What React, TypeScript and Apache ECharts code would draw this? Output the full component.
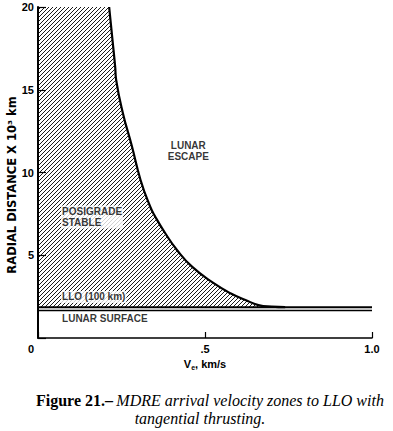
import React, { useEffect, useRef } from 'react';
import * as echarts from 'echarts';

// Axis ticks
const xTickValues = [0, 0.5, 1.0];
const xTickLabels = ['0', '.5', '1.0'];
const yTickValues = [0, 5, 10, 15, 20];
const yTickLabels = ['', '5', '10', '15', '20'];

// Boundary between posigrade-stable and lunar-escape zones (V_e km/s, radial distance 10^3 km)
const curveV = [0.213, 0.221, 0.231, 0.234, 0.254, 0.281, 0.307, 0.336, 0.351, 0.381, 0.416, 0.461, 0.526, 0.576, 0.621, 0.66, 0.70, 0.74];
const curveR = [20, 18.4, 16.4, 15.6, 13.6, 11.6, 9.55, 7.93, 7.33, 6.33, 5.32, 4.31, 3.31, 2.7, 2.3, 1.99, 1.89, 1.86];

// Reference levels (10^3 km)
const lloR = 1.86;
const surfaceR = 1.66;
const vMin = 0;
const vMax = 1;
const rMin = 0;
const rMax = 20;

// Zone labels (anchor in data coordinates)
const zoneNames = ['LUNAR\nESCAPE', 'POSIGRADE\nSTABLE', 'LLO (100 km)', 'LUNAR SURFACE'];
const zoneV = [0.45, 0.069, 0.069, 0.069];
const zoneR = [11.3, 7.31, 2.48, 1.15];
const zoneAlign = ['center', 'left', 'left', 'left'];

const sans = 'Liberation Sans, Arial, Helvetica, sans-serif';
const serif = 'Liberation Serif, Times New Roman, serif';

const hatchSvg =
  "<svg xmlns='http://www.w3.org/2000/svg' width='4' height='4'>" +
  "<path d='M-1,1 L1,-1 M0,4 L4,0 M3,5 L5,3' stroke='black' stroke-width='0.9'/></svg>";
const hatchUrl = 'data:image/svg+xml;charset=utf-8,' + encodeURIComponent(hatchSvg);

export default function App() {
  const ref = useRef<HTMLDivElement>(null);
  useEffect(() => {
    if (!ref.current) return;
    const chart = echarts.init(ref.current, undefined, { renderer: 'svg' });
    const hatchPattern: any = { image: hatchUrl, repeat: 'repeat', imageWidth: 4, imageHeight: 4 };
    const option: any = {
      animation: false,
      backgroundColor: '#ffffff',
      grid: { left: 38, right: 21, top: 7, bottom: 93, containLabel: false },
      xAxis: {
        type: 'value',
        min: vMin,
        max: vMax,
        interval: 0.5,
        axisLine: { show: true, onZero: false, lineStyle: { color: '#000', width: 1.5 } },
        axisTick: { show: true, inside: true, length: 6, lineStyle: { color: '#000', width: 1.2 } },
        splitLine: { show: false },
        axisLabel: {
          color: '#000',
          fontFamily: sans,
          fontWeight: 'bold',
          fontSize: 11,
          margin: 5,
          formatter: (val: number) => {
            const i = xTickValues.findIndex((t) => Math.abs(t - val) < 1e-9);
            const s = i >= 0 ? xTickLabels[i] : '';
            return i === 0 ? '{z|' + s + '}' : s;
          },
          rich: { z: { fontFamily: sans, fontWeight: 'bold', fontSize: 11, color: '#000', padding: [0, 14, 0, 0] } },
        },
        name: '{v|V}{s|e}{v|, km/s}',
        nameLocation: 'middle',
        nameGap: 17,
        nameTextStyle: {
          rich: {
            v: { fontFamily: sans, fontWeight: 'bold', fontSize: 11, color: '#000' },
            s: { fontFamily: sans, fontWeight: 'bold', fontSize: 7, color: '#000', padding: [6, 0, 0, 0] },
          },
        },
      },
      yAxis: {
        type: 'value',
        min: rMin,
        max: rMax,
        interval: 5,
        axisLine: { show: true, onZero: false, lineStyle: { color: '#000', width: 2 } },
        axisTick: { show: true, inside: true, length: 8, lineStyle: { color: '#000', width: 1.2 } },
        splitLine: { show: false },
        axisLabel: {
          color: '#000',
          fontFamily: sans,
          fontWeight: 'bold',
          fontSize: 11,
          margin: 4,
          formatter: (val: number) => {
            const i = yTickValues.findIndex((t) => Math.abs(t - val) < 1e-9);
            return i >= 0 ? yTickLabels[i] : '';
          },
        },
      },
      graphic: [
        {
          type: 'text',
          x: 12,
          y: 185,
          rotation: Math.PI / 2,
          style: {
            text: 'RADIAL DISTANCE X 10³ km',
            fontFamily: 'DejaVu Sans, sans-serif',
            fontWeight: 'bold',
            fontSize: 11.5,
            fill: '#000',
            align: 'center',
            verticalAlign: 'middle',
          },
        },
        {
          type: 'text',
          x: 36,
          y: 400,
          style: {
            text: '{r|Figure 21.–} {i|MDRE arrival velocity zones to LLO with}',
            align: 'left',
            verticalAlign: 'middle',
            rich: {
              r: { fontFamily: serif, fontSize: 16, fontWeight: 'bold', fill: '#000' },
              i: { fontFamily: serif, fontSize: 16, fontStyle: 'italic', fill: '#000' },
            },
          },
        },
        {
          type: 'text',
          x: 200,
          y: 418,
          style: {
            text: 'tangential thrusting.',
            fontFamily: serif,
            fontSize: 16,
            fontStyle: 'italic',
            fill: '#000',
            align: 'center',
            verticalAlign: 'middle',
          },
        },
      ],
      series: [
        {
          type: 'custom',
          name: 'hatch',
          silent: true,
          clip: false,
          z: 1,
          data: [[vMin, lloR]],
          encode: { x: 0, y: 1 },
          renderItem: (_params: any, api: any) => {
            const pts: number[][] = [api.coord([vMin, lloR]), api.coord([vMin, rMax])];
            curveV.forEach((v, i) => pts.push(api.coord([v, curveR[i]])));
            return {
              type: 'polygon',
              shape: { points: pts, smooth: 0 },
              style: { fill: hatchPattern, stroke: null },
            };
          },
        },
        {
          type: 'line',
          name: 'boundary',
          data: curveV.map((v, i) => [v, curveR[i]]),
          smooth: 0.5,
          symbol: 'none',
          z: 4,
          lineStyle: { color: '#000', width: 2.2 },
        },
        {
          type: 'line',
          name: 'LLO',
          data: [[vMin, lloR], [vMax, lloR]],
          symbol: 'none',
          z: 4,
          lineStyle: { color: '#000', width: 2 },
        },
        {
          type: 'line',
          name: 'surface',
          data: [[vMin, surfaceR], [vMax, surfaceR]],
          symbol: 'none',
          z: 4,
          lineStyle: { color: '#000', width: 1.5 },
        },
        {
          type: 'scatter',
          name: 'labels',
          symbolSize: 0,
          silent: true,
          z: 5,
          data: zoneNames.map((n, i) => ({
            value: [zoneV[i], zoneR[i]],
            label: {
              show: true,
              position: 'inside',
              formatter: n,
              align: zoneAlign[i],
              verticalAlign: 'middle',
              fontFamily: sans,
              fontWeight: 'bold',
              fontSize: 10,
              lineHeight: 11,
              color: '#000',
              backgroundColor: i === 0 ? 'transparent' : '#fff',
              padding: i === 0 ? 0 : [1, 1, 0, 1],
            },
          })),
        },
      ],
    };
    chart.setOption(option);
    return () => chart.dispose();
  }, []);
  return (
    <div
      ref={ref}
      style={{ position: 'fixed', left: 0, top: 0, width: 393, height: 431, background: '#fff' }}
    />
  );
}
